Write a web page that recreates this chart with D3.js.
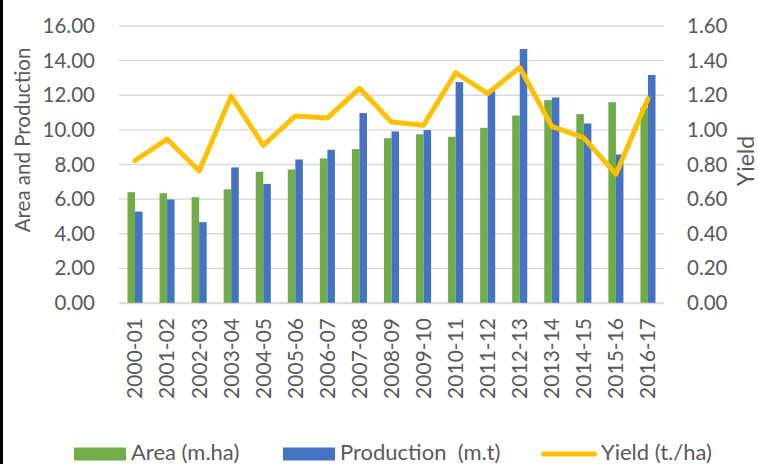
<!DOCTYPE html>
<html>
<head>
<meta charset="utf-8">
<script src="https://cdn.jsdelivr.net/npm/d3@7"></script>
<style>
  html, body { margin: 0; padding: 0; background: #fff; }
  svg { display: block; }
  text { font-family: Lato, "Open Sans", sans-serif; fill: #595959; }
</style>
</head>
<body>
<div id="chart"></div>
<script>
const years = ["2000-01","2001-02","2002-03","2003-04","2004-05","2005-06","2006-07","2007-08","2008-09",
  "2009-10","2010-11","2011-12","2012-13","2013-14","2014-15","2015-16","2016-17"]
const area = [6.40,6.34,6.11,6.57,7.58,7.71,8.35,8.89,9.52,9.75,9.60,10.12,10.83,11.72,10.91,11.60,11.30]
const production = [5.28,5.98,4.67,7.83,6.88,8.29,8.85,10.97,9.91,9.99,12.76,12.26,14.67,11.87,10.37,8.58,13.17]
const yieldVals = [0.823,0.947,0.763,1.195,0.91,1.08,1.068,1.24,1.045,1.027,1.33,1.21,1.36,1.02,0.954,0.744,1.18]
const leftTicks = [0,2,4,6,8,10,12,14,16]
const rightTicks = [0,0.2,0.4,0.6,0.8,1.0,1.2,1.4,1.6]

const width = 758, height = 464
const margin = {top: 26, right: 94, bottom: 161, left: 119}
const fontSize = 20.5

const svg = d3.select("#chart").append("svg")
    .attr("width", width)
    .attr("height", height)

// black edge on the left of the picture
svg.append("rect")
    .attr("x", 0).attr("y", 0)
    .attr("width", 3).attr("height", height)
    .attr("fill", "#000")

const x = d3.scaleBand()
    .domain(years)
    .range([margin.left, width - margin.right])
    .paddingInner(0.53)
    .paddingOuter(0.265)

const yLeft = d3.scaleLinear().domain([0, 16]).range([height - margin.bottom, margin.top])
const yRight = d3.scaleLinear().domain([0, 1.6]).range([height - margin.bottom, margin.top])

// gridlines
svg.append("g")
  .selectAll("line")
  .data(leftTicks)
  .join("line")
    .attr("x1", margin.left)
    .attr("x2", width - margin.right)
    .attr("y1", d => yLeft(d))
    .attr("y2", d => yLeft(d))
    .attr("stroke", "#d9d9d9")
    .attr("stroke-width", 1.3)

// left axis
const leftAxis = svg.append("g")
    .attr("transform", `translate(${margin.left - 24},0)`)
    .call(d3.axisLeft(yLeft).tickValues(leftTicks).tickFormat(d3.format(".2f")).tickSize(0).tickPadding(0))
leftAxis.select(".domain").remove()
leftAxis.selectAll("text").attr("font-size", fontSize).style("fill", "#595959")

// right axis
const rightAxis = svg.append("g")
    .attr("transform", `translate(${width - margin.right + 23},0)`)
    .call(d3.axisRight(yRight).tickValues(rightTicks).tickFormat(d3.format(".2f")).tickSize(0).tickPadding(0))
rightAxis.select(".domain").remove()
rightAxis.selectAll("text").attr("font-size", fontSize).style("fill", "#595959")

// bars
const sub = d3.scaleBand().domain(["area","production"]).range([0, x.bandwidth()])

const groups = svg.append("g")
  .selectAll("g")
  .data(years)
  .join("g")
    .attr("transform", d => `translate(${x(d)},0)`)

groups.append("rect")
    .attr("x", sub("area"))
    .attr("y", (d, i) => yLeft(area[i]))
    .attr("width", sub.bandwidth())
    .attr("height", (d, i) => yLeft(0) - yLeft(area[i]))
    .attr("fill", "#70ad47")

groups.append("rect")
    .attr("x", sub("production"))
    .attr("y", (d, i) => yLeft(production[i]))
    .attr("width", sub.bandwidth())
    .attr("height", (d, i) => yLeft(0) - yLeft(production[i]))
    .attr("fill", "#4472c4")

// x axis
const xAxis = svg.append("g")
    .attr("transform", `translate(0,${height - margin.bottom})`)
    .call(d3.axisBottom(x).tickSize(0).tickPadding(0))
xAxis.select(".domain")
    .attr("d", `M${margin.left},0.5H${width - margin.right}`)
    .attr("stroke", "#d9d9d9")
    .attr("stroke-width", 1.3)
xAxis.selectAll("text")
    .attr("font-size", 21)
    .attr("text-anchor", "end")
    .attr("dy", "0.35em")
    .attr("transform", "translate(0,15) rotate(-90)")
    .attr("x", 0).attr("y", 0)
    .style("fill", "#595959")

// yield line
const line = d3.line()
    .x((d, i) => x(years[i]) + x.bandwidth() / 2)
    .y(d => yRight(d))

svg.append("path")
    .datum(yieldVals)
    .attr("d", line)
    .attr("fill", "none")
    .attr("stroke", "#ffc000")
    .attr("stroke-width", 5)
    .attr("stroke-linejoin", "round")
    .attr("stroke-linecap", "round")

// axis titles
svg.append("text")
    .attr("transform", `translate(23,140) rotate(-90)`)
    .attr("text-anchor", "middle")
    .attr("dy", "0.35em")
    .attr("font-size", 20.5)
    .text("Area and Production")

svg.append("text")
    .attr("transform", `translate(746,161) rotate(-90)`)
    .attr("text-anchor", "middle")
    .attr("dy", "0.35em")
    .attr("font-size", 23)
    .text("Yield")

// legend
const legendItems = [
  {name: "Area (m.ha)", color: "#70ad47", type: "rect", x: 74, tx: 57},
  {name: "Production  (m.t)", color: "#4472c4", type: "rect", x: 283, tx: 57},
  {name: "Yield (t./ha)", color: "#ffc000", type: "line", x: 541, tx: 60}
]

const legend = svg.append("g")
  .selectAll("g")
  .data(legendItems)
  .join("g")
    .attr("transform", d => `translate(${d.x},454)`)

legend.filter(d => d.type == "rect")
  .append("rect")
    .attr("x", 0).attr("y", -6.5)
    .attr("width", 52).attr("height", 13)
    .attr("fill", d => d.color)

legend.filter(d => d.type == "line")
  .append("line")
    .attr("x1", 2.5).attr("x2", 53.5)
    .attr("y1", 0).attr("y2", 0)
    .attr("stroke", d => d.color)
    .attr("stroke-width", 5)
    .attr("stroke-linecap", "round")

legend.append("text")
    .attr("x", d => d.tx)
    .attr("y", 0)
    .attr("dy", "0.26em")
    .attr("font-size", 22)
    .style("white-space", "pre")
    .text(d => d.name)
</script>
</body>
</html>
